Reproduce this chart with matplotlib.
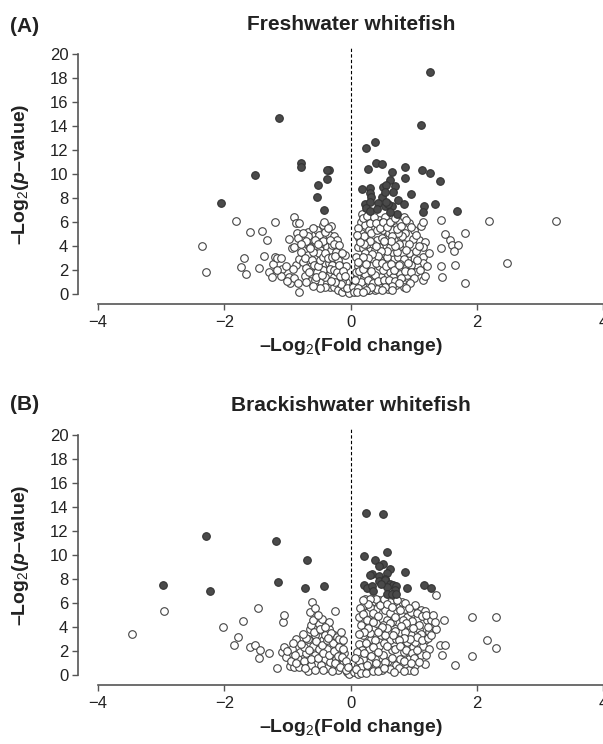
import numpy as np
import matplotlib
matplotlib.use("Agg")
import matplotlib.pyplot as plt

plt.rcParams["font.family"] = ["Liberation Sans", "DejaVu Sans"]
plt.rcParams["mathtext.fontset"] = "custom"
plt.rcParams["mathtext.rm"] = "Liberation Sans"
plt.rcParams["mathtext.it"] = "Liberation Sans:italic:bold"
plt.rcParams["mathtext.bf"] = "Liberation Sans:bold"

# (log2 fold change, -log2 p)
fresh_sig = [
    (1.26, 18.5), (-1.14, 14.7), (1.12, 14.1), (0.38, 12.7), (0.24, 12.2),
    (0.41, 10.9), (0.50, 10.8), (-0.78, 10.9), (-0.78, 10.55), (-0.34, 10.3),
    (-0.37, 10.3), (-1.51, 9.9), (0.27, 10.4), (0.87, 10.55), (0.65, 10.2),
    (1.13, 10.3), (1.26, 10.05), (0.87, 9.7), (-0.38, 9.6), (1.42, 9.4),
    (-0.51, 9.1), (0.62, 9.5), (0.71, 9.0), (0.51, 8.9), (0.56, 9.1),
    (0.18, 8.75), (0.30, 8.8), (0.67, 8.5), (0.95, 8.3), (0.31, 8.4),
    (0.33, 8.1), (-0.53, 8.1), (0.49, 8.05), (0.54, 8.5), (-2.06, 7.6),
    (0.75, 7.8), (0.84, 7.5), (1.33, 7.5), (1.17, 7.35), (0.23, 7.5),
    (0.31, 7.65), (0.44, 7.55), (0.54, 7.3), (0.65, 7.3), (0.25, 7.15),
    (0.60, 7.5), (-0.42, 7.0), (1.69, 6.95), (1.15, 6.8), (0.31, 6.95),
    (0.74, 6.7), (0.62, 6.85), (0.42, 7.1), (0.56, 7.7),
]
fresh_ns = [
    (-2.35, 4.0), (-2.29, 1.8), (-1.81, 6.1), (-1.69, 3.0), (-1.74, 2.25),
    (-1.66, 1.7), (-1.59, 5.2), (-1.40, 5.25), (-1.45, 2.15), (-1.38, 3.15),
    (-1.32, 4.5), (-1.20, 6.0), (-1.29, 1.8), (-1.25, 1.45), (-1.23, 2.5),
    (-1.20, 3.1), (-1.17, 3.0), (-1.11, 3.0), (-1.09, 2.05), (-1.11, 1.5),
    (-1.17, 2.0), (-0.97, 4.6), (-0.93, 3.8), (-0.90, 3.95), (-0.89, 6.45),
    (-0.87, 5.9), (-0.82, 5.95), (-0.85, 5.05), (-0.84, 4.65), (-0.98, 1.45),
    (-0.96, 0.95), (-0.90, 1.35), (-0.84, 0.9), (-0.81, 0.15), (-0.87, 2.4),
    (-0.81, 2.9), (-0.75, 2.7), (-0.68, 3.25), (-0.68, 5.2), (-0.67, 4.8),
    (-0.68, 4.1), (-0.64, 3.95), (-0.62, 2.3), (-0.65, 1.6), (-0.64, 1.1),
    (-0.56, 3.0), (-0.53, 5.35), (-0.50, 4.9), (-0.48, 3.65), (-0.47, 4.35),
    (-0.44, 5.75), (-0.42, 6.0), (-0.35, 4.9), (-0.31, 5.65), (-0.26, 4.8),
    (-0.22, 4.5), (-0.38, 3.95), (-0.31, 3.65), (-0.41, 2.55), (-0.35, 2.55),
    (-0.29, 2.4), (-0.20, 2.85), (-0.16, 2.3), (-0.44, 2.0), (-0.47, 1.0),
    (-0.38, 0.9), (-0.33, 0.6), (-0.26, 0.6), (-0.20, 0.35), (-0.13, 0.2),
    (-0.10, 0.6), (-0.07, 1.0), (-0.10, 1.45), (-0.09, 3.25), (-0.07, 2.3),
    (-0.20, 1.15), (-0.56, 1.15), (-0.53, 1.85), (-0.50, 3.4), (-0.59, 3.5),
    (-0.56, 4.5), (-0.75, 5.05), (-0.65, 3.8), (-0.29, 4.1), (-0.23, 3.5),
    (-0.32, 1.7), (-0.26, 1.45), (-0.41, 1.45), (-0.13, 1.0), (-0.04, 0.35),
    (-0.02, 0.05),
    (-0.78, 3.5), (-0.73, 3.0), (-0.70, 2.2), (-0.72, 1.5), (-0.66, 1.8),
    (-0.61, 2.8), (-0.58, 2.4), (-0.55, 1.4), (-0.51, 2.3), (-0.49, 2.8),
    (-0.46, 1.6), (-0.44, 3.1), (-0.40, 3.4), (-0.36, 3.0), (-0.33, 2.1),
    (-0.30, 3.1), (-0.27, 2.0), (-0.25, 3.2), (-0.22, 1.8), (-0.19, 2.4),
    (-0.17, 1.5), (-0.15, 0.8), (-0.12, 1.9), (-0.09, 1.5), (-0.06, 0.5),
    (-0.24, 1.0), (-0.31, 1.1), (-0.40, 0.6), (-0.48, 0.5), (-0.60, 0.7),
    (-0.70, 1.0), (-0.44, 4.4), (-0.40, 5.2), (-0.33, 4.5), (-0.27, 4.2),
    (-0.18, 4.1), (-0.14, 3.4), (-0.60, 5.5), (-0.70, 4.4), (-0.78, 4.2),
    (-0.36, 5.5), (-0.52, 4.2), (-0.92, 2.1), (-1.03, 2.3), (-1.00, 1.1),
    (0.18, 6.7), (0.17, 6.0), (0.23, 5.75), (0.14, 4.65), (0.11, 3.95),
    (0.20, 3.8), (0.29, 5.35), (0.34, 6.15), (0.38, 5.6), (0.45, 6.15),
    (0.51, 5.35), (0.54, 6.45), (0.60, 5.9), (0.67, 6.3), (0.72, 5.6),
    (0.78, 6.0), (0.84, 6.45), (0.92, 5.95), (0.87, 5.05), (0.84, 4.2),
    (1.00, 5.35), (1.09, 4.5), (1.12, 5.7), (1.15, 6.0), (1.18, 4.35),
    (1.14, 3.95), (1.15, 3.1), (1.24, 3.4), (1.14, 2.55), (1.21, 2.35),
    (1.06, 2.3), (1.00, 3.0), (1.03, 1.85), (1.15, 1.15), (1.18, 1.5),
    (1.44, 6.15), (1.50, 5.0), (1.58, 4.5), (1.61, 4.1), (1.70, 4.05),
    (1.64, 3.6), (1.44, 3.85), (1.44, 2.3), (1.45, 1.4), (1.66, 2.4),
    (1.81, 5.05), (1.81, 0.95), (2.19, 6.1), (2.48, 2.55), (3.26, 6.05),
    (0.08, 3.1), (0.11, 2.3), (0.10, 1.45), (0.08, 0.9), (0.14, 0.35),
    (0.20, 0.6), (0.17, 2.55), (0.23, 3.4), (0.26, 4.2), (0.29, 1.85),
    (0.32, 1.15), (0.28, 0.35), (0.35, 2.85), (0.38, 3.65), (0.42, 4.5),
    (0.45, 2.3), (0.48, 1.45), (0.51, 3.4), (0.54, 4.1), (0.57, 4.8),
    (0.60, 2.7), (0.63, 1.85), (0.66, 3.5), (0.69, 4.5), (0.72, 2.3),
    (0.75, 3.1), (0.78, 3.8), (0.81, 4.8), (0.72, 0.75), (0.60, 0.75),
    (0.45, 0.6), (0.38, 0.35), (0.59, 0.4), (0.81, 1.0), (0.87, 2.3),
    (0.90, 3.0), (0.93, 3.4), (0.78, 1.7), (0.29, 0.35), (0.22, 1.3),
    (0.08, 1.85), (0.04, 0.6), (0.05, 0.2), (0.16, 5.05), (0.22, 4.8),
    (0.32, 5.05), (0.35, 4.2), (0.45, 3.95), (0.49, 4.65), (0.61, 5.05),
    (0.66, 5.35), (0.75, 5.05), (0.77, 4.2), (0.63, 3.95), (0.57, 3.1),
    (0.47, 2.85), (0.32, 2.3), (0.23, 1.7), (0.38, 1.6), (0.52, 2.0),
    (0.67, 1.45), (0.84, 0.6), (0.89, 1.6), (0.42, 5.35), (0.48, 5.9),
    (0.65, 4.8), (0.83, 3.4), (0.95, 2.4), (1.06, 2.85),
    (0.12, 5.5), (0.19, 6.3), (0.26, 6.5), (0.30, 5.9), (0.37, 6.4),
    (0.41, 5.9), (0.46, 5.5), (0.52, 6.0), (0.57, 5.6), (0.63, 6.0),
    (0.70, 6.3), (0.74, 5.4), (0.80, 5.7), (0.88, 6.2), (0.95, 5.6),
    (0.99, 4.6), (0.93, 4.2), (0.88, 3.7), (0.84, 2.9), (0.79, 2.5),
    (0.73, 3.5), (0.70, 4.0), (0.64, 4.4), (0.58, 3.6), (0.53, 4.4),
    (0.48, 3.6), (0.43, 3.2), (0.40, 4.0), (0.34, 3.3), (0.30, 4.4),
    (0.27, 3.0), (0.22, 4.2), (0.19, 3.1), (0.15, 4.3), (0.12, 2.7),
    (0.14, 1.9), (0.17, 1.0), (0.20, 2.1), (0.25, 2.5), (0.27, 1.2),
    (0.33, 1.9), (0.36, 0.9), (0.41, 2.6), (0.44, 1.1), (0.50, 2.6),
    (0.53, 1.2), (0.56, 2.3), (0.61, 1.2), (0.64, 2.5), (0.69, 2.0),
    (0.71, 1.1), (0.76, 2.4), (0.80, 1.3), (0.86, 1.9), (0.91, 2.6),
    (0.96, 1.8), (1.00, 1.3), (0.94, 0.9), (0.88, 0.5), (0.76, 0.9),
    (0.66, 0.7), (0.54, 0.6), (0.42, 0.4), (0.33, 0.6), (0.24, 0.3),
    (0.12, 0.5), (0.07, 1.2), (0.10, 0.15), (0.19, 0.2), (0.50, 0.3),
    (0.65, 0.35), (1.04, 3.6), (1.08, 4.0), (1.10, 2.0), (1.04, 4.9),
    (0.10, 4.9),
]

brack_sig = [
    (0.24, 13.45), (0.52, 13.4), (-2.29, 11.55), (-1.18, 11.15), (-0.69, 9.55),
    (0.22, 9.9), (0.57, 10.2), (0.38, 9.6), (0.51, 9.25), (0.45, 9.1),
    (0.62, 8.8), (0.87, 8.6), (0.57, 8.45), (0.34, 8.4), (0.30, 8.3),
    (0.45, 8.25), (0.54, 8.0), (-2.98, 7.5), (-1.15, 7.7), (-0.42, 7.4),
    (-0.73, 7.2), (-2.23, 7.0), (0.22, 7.45), (0.26, 7.2), (0.34, 7.4),
    (0.35, 7.0), (0.45, 7.8), (0.55, 7.9), (0.63, 7.6), (0.67, 7.45),
    (0.72, 7.4), (0.57, 7.3), (0.70, 7.05), (0.57, 6.75), (0.65, 6.75),
    (0.72, 6.7), (0.89, 7.25), (1.17, 7.45), (1.27, 7.25), (0.48, 7.6),
]
brack_ns = [
    (-3.46, 3.4), (-2.96, 5.35), (-2.02, 4.0), (-1.84, 2.5), (-1.79, 3.15),
    (-1.71, 4.5), (-1.59, 2.35), (-1.51, 2.5), (-1.46, 5.6), (-1.43, 2.05),
    (-1.45, 1.45), (-1.29, 1.8), (-1.16, 0.55), (-1.07, 4.4), (-1.05, 5.0),
    (-1.09, 1.95), (-1.05, 2.35), (-1.02, 1.5), (-0.96, 0.75), (-0.90, 0.65),
    (-0.93, 2.2), (-0.87, 3.0), (-0.84, 1.35), (-0.80, 1.95), (-0.71, 1.8),
    (-0.68, 0.3), (-0.68, 3.0), (-0.65, 3.85), (-0.65, 5.25), (-0.61, 6.1),
    (-0.57, 5.6), (-0.62, 4.15), (-0.59, 2.45), (-0.56, 1.65), (-0.53, 0.95),
    (-0.50, 2.2), (-0.50, 3.15), (-0.50, 4.25), (-0.45, 4.7), (-0.44, 2.9),
    (-0.41, 1.35), (-0.38, 0.55), (-0.35, 3.85), (-0.35, 4.4), (-0.32, 2.45),
    (-0.29, 1.65), (-0.24, 5.3), (-0.26, 3.3), (-0.26, 0.8), (-0.21, 2.05),
    (-0.20, 0.4), (-0.16, 2.75), (-0.15, 1.2), (-0.10, 1.8), (-0.09, 0.65),
    (-0.05, 0.25), (-0.02, 0.1), (-0.41, 3.3), (-0.56, 3.3), (-0.74, 2.35),
    (-0.38, 2.2), (-0.47, 0.8), (-0.62, 0.8), (-0.32, 1.1), (-0.12, 0.95),
    (-0.23, 1.35),
    (-0.95, 1.2), (-0.88, 1.7), (-0.82, 0.7), (-0.78, 2.6), (-0.74, 1.2),
    (-0.70, 3.1), (-0.66, 2.1), (-0.62, 1.3), (-0.58, 3.6), (-0.55, 2.8),
    (-0.52, 1.4), (-0.48, 3.8), (-0.46, 2.5), (-0.43, 1.8), (-0.40, 4.0),
    (-0.37, 2.9), (-0.34, 1.7), (-0.31, 3.5), (-0.28, 2.7), (-0.27, 2.0),
    (-0.25, 1.0), (-0.22, 3.2), (-0.20, 1.6), (-0.18, 2.3), (-0.17, 0.7),
    (-0.14, 1.5), (-0.12, 2.2), (-0.08, 1.2), (-0.07, 0.4), (-0.04, 0.7),
    (-0.30, 0.35), (-0.44, 0.45), (-0.56, 0.4), (-0.72, 0.55), (-0.86, 1.0),
    (-1.00, 2.0), (-0.92, 2.7), (-0.76, 3.4), (-0.60, 4.6), (-0.52, 5.0),
    (-0.36, 3.1), (-0.19, 3.0), (-0.15, 3.6), (-0.12, 2.9),
    (0.14, 4.85), (0.22, 5.8), (0.23, 6.35), (0.28, 5.25), (0.30, 6.1),
    (0.17, 4.15), (0.20, 3.3), (0.14, 2.6), (0.16, 1.65), (0.11, 0.8),
    (0.05, 0.25), (0.11, 0.1), (0.23, 0.4), (0.29, 1.1), (0.29, 2.2),
    (0.32, 3.0), (0.35, 3.85), (0.38, 4.7), (0.41, 5.5), (0.45, 6.2),
    (0.51, 6.1), (0.54, 5.4), (0.57, 4.55), (0.60, 3.7), (0.63, 2.9),
    (0.66, 2.05), (0.60, 1.2), (0.48, 0.8), (0.38, 0.55), (0.51, 1.65),
    (0.45, 2.45), (0.48, 3.3), (0.51, 4.15), (0.69, 6.1), (0.72, 5.25),
    (0.75, 4.4), (0.78, 3.6), (0.81, 2.75), (0.84, 1.9), (0.89, 0.65),
    (0.81, 6.1), (0.87, 5.5), (0.90, 4.85), (0.93, 4.15), (0.96, 3.3),
    (0.99, 2.35), (1.02, 5.8), (1.05, 4.7), (1.09, 3.85), (1.11, 5.4),
    (1.18, 5.3), (1.21, 4.55), (1.24, 3.6), (1.18, 2.9), (1.15, 2.45),
    (1.18, 0.95), (1.02, 0.85), (0.93, 1.35), (1.35, 6.65), (1.35, 3.8),
    (1.42, 2.5), (1.50, 2.5), (1.45, 1.65), (1.48, 4.55), (1.65, 0.8),
    (1.92, 4.85), (1.92, 1.55), (2.16, 2.95), (2.30, 4.85), (2.31, 2.25),
    (1.27, 4.55), (1.24, 2.2), (0.38, 1.35), (0.72, 0.8), (0.78, 1.35),
    (0.72, 3.0), (0.54, 3.3), (0.63, 6.1), (0.34, 6.1), (0.87, 3.6),
    (1.02, 2.75), (1.11, 1.65), (0.29, 4.4), (0.20, 1.35), (0.41, 4.3),
    (0.66, 4.4), (0.90, 2.75), (0.96, 5.25),
    (0.15, 5.6), (0.19, 5.1), (0.26, 4.6), (0.31, 5.7), (0.36, 5.2),
    (0.40, 6.3), (0.44, 4.9), (0.47, 5.8), (0.53, 6.3), (0.58, 5.9),
    (0.62, 5.2), (0.66, 5.7), (0.70, 4.8), (0.74, 6.2), (0.79, 5.4),
    (0.83, 4.6), (0.86, 6.0), (0.92, 5.6), (0.97, 4.5), (1.05, 5.2),
    (1.08, 4.2), (1.13, 4.9), (1.20, 5.0), (1.23, 4.0), (1.12, 3.4),
    (1.06, 3.2), (0.99, 3.9), (0.94, 3.0), (0.88, 4.3), (0.85, 3.1),
    (0.80, 4.1), (0.76, 2.9), (0.70, 3.7), (0.67, 3.3), (0.62, 4.3),
    (0.57, 3.9), (0.53, 2.7), (0.49, 4.0), (0.43, 3.6), (0.39, 2.9),
    (0.35, 4.4), (0.31, 3.5), (0.27, 3.9), (0.24, 2.7), (0.21, 3.6),
    (0.18, 2.1), (0.13, 3.4), (0.10, 1.9), (0.13, 1.2), (0.17, 0.7),
    (0.21, 1.8), (0.26, 0.8), (0.33, 1.6), (0.36, 2.3), (0.41, 1.0),
    (0.44, 1.9), (0.49, 0.4), (0.55, 1.1), (0.57, 2.4), (0.62, 0.5),
    (0.66, 1.4), (0.70, 2.2), (0.76, 0.6), (0.79, 2.4), (0.84, 1.2),
    (0.88, 2.1), (0.92, 0.4), (0.97, 1.8), (1.01, 1.4), (1.05, 2.1),
    (1.09, 1.1), (1.13, 2.9), (1.19, 1.7), (1.22, 3.1), (1.28, 3.3),
    (1.30, 5.0), (1.33, 4.4), (0.07, 1.4), (0.09, 0.5), (0.16, 0.2),
    (0.25, 0.15), (0.35, 0.3), (0.44, 0.3), (0.53, 0.6), (0.68, 0.25),
    (0.85, 0.3), (0.95, 1.0), (1.00, 0.3), (0.31, 6.3), (0.27, 5.9),
    (0.20, 6.2),
]

x_ticks = [-4, -2, 0, 2, 4]
y_ticks = [0, 2, 4, 6, 8, 10, 12, 14, 16, 18, 20]

fig = plt.figure(figsize=(6.03, 7.44), dpi=100)
ax_a = fig.add_axes([78 / 603, 0.6016, 525 / 603, 0.3355])
ax_b = fig.add_axes([78 / 603, 0.0895, 525 / 603, 0.336])

spine_col = "#555555"
text_col = "#222222"


def volcano(ax, sig, ns):
    ns = np.array(ns)
    sig = np.array(sig)
    ax.set_xlim(-4.32, 4.0)
    ax.set_ylim(-0.2, 20.6)
    ax.axvline(0, color="black", lw=0.8, ls=(0, (3, 2)), zorder=1)
    ax.scatter(ns[:, 0], ns[:, 1], s=30, facecolor="white", edgecolor="#444444",
               linewidth=0.8, zorder=2, clip_on=False)
    ax.scatter(sig[:, 0], sig[:, 1], s=30, facecolor="#4a4a4a", edgecolor="#333333",
               linewidth=0.8, zorder=3, clip_on=False)
    for side in ["top", "right"]:
        ax.spines[side].set_visible(False)
    ax.spines["left"].set_bounds(0, 20)
    ax.spines["bottom"].set_bounds(-4, 4)
    ax.spines["bottom"].set_position(("outward", 5.4))
    for side in ["left", "bottom"]:
        ax.spines[side].set_color(spine_col)
        ax.spines[side].set_linewidth(1.2)
    ax.set_xticks(x_ticks)
    ax.set_yticks(y_ticks)
    ax.tick_params(axis="both", colors=spine_col, labelcolor=text_col,
                   labelsize=12, length=4, width=1.0)
    ax.tick_params(axis="y", pad=3)
    ax.tick_params(axis="x", pad=4)
    ax.set_ylabel("–Log$_2$($p$–value)", fontsize=14, fontweight="bold", color=text_col)
    ax.set_xlabel("–Log$_2$(Fold change)", fontsize=14, fontweight="bold", color=text_col)
    ax.yaxis.set_label_coords(-0.09, 0.49)
    ax.xaxis.set_label_coords(0.52, -0.16)


volcano(ax_a, fresh_sig, fresh_ns)
volcano(ax_b, brack_sig, brack_ns)

fig.text(0.582, 1 - 24 / 744, "Freshwater whitefish", ha="center", va="center",
         fontsize=15, fontweight="bold", color=text_col)
fig.text(0.582, 1 - 406 / 744, "Brackishwater whitefish", ha="center", va="center",
         fontsize=15, fontweight="bold", color=text_col)
fig.text(0.016, 1 - 26 / 744, "(A)", ha="left", va="center",
         fontsize=15, fontweight="bold", color=text_col)
fig.text(0.016, 1 - 405 / 744, "(B)", ha="left", va="center",
         fontsize=15, fontweight="bold", color=text_col)

fig.savefig("out.png", dpi=100)
